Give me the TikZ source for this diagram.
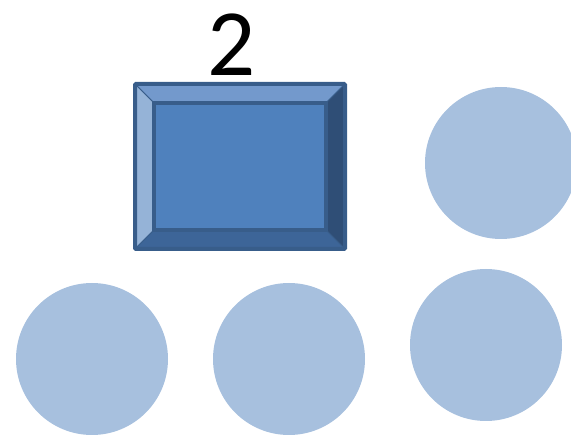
\documentclass[tikz,border=0pt]{standalone}
\usepackage{fontspec}
\setmainfont{Carlito}
\definecolor{dotblue}{HTML}{A7C0DE}
\definecolor{faceblue}{HTML}{4F81BD}
\definecolor{edgeblue}{HTML}{385D8A}
\definecolor{topbevel}{HTML}{7399CC}
\definecolor{leftbevel}{HTML}{95B3D7}
\definecolor{rightbevel}{HTML}{2F4E76}
\definecolor{bottombevel}{HTML}{3D6598}
\begin{document}
\begin{tikzpicture}[
  x=1pt,y=-1pt,
  dot/.style={circle,fill=dotblue,minimum size=152pt,inner sep=0pt},
  bevel/.style={draw=edgeblue,line width=1pt,line join=round}
]
\useasboundingbox (0,0) rectangle (571,435);
\clip (0,0) rectangle (571,435);
% number label
\node[font=\fontsize{95}{95}\selectfont,inner sep=0pt] (num) at (232,45) {2};
% bevelled box
\coordinate (o1) at (135,84);  \coordinate (o2) at (345,84);
\coordinate (o3) at (345,249); \coordinate (o4) at (135,249);
\coordinate (i1) at (154,103); \coordinate (i2) at (326,103);
\coordinate (i3) at (326,230); \coordinate (i4) at (154,230);
\fill[faceblue] (i1) rectangle (i3);
\filldraw[bevel,fill=topbevel] (o1) -- (o2) -- (i2) -- (i1) -- cycle;
\filldraw[bevel,fill=leftbevel] (o1) -- (i1) -- (i4) -- (o4) -- cycle;
\filldraw[bevel,fill=rightbevel] (o2) -- (o3) -- (i3) -- (i2) -- cycle;
\filldraw[bevel,fill=bottombevel] (o4) -- (i4) -- (i3) -- (o3) -- cycle;
\draw[edgeblue,line width=3.5pt] (i1) rectangle (i3);
\draw[edgeblue,line width=4pt,rounded corners=1pt] (o1) rectangle (o3);
% circles
\node[dot] (topright) at (501,163) {};
\node[dot] (botleft) at (92,359) {};
\node[dot] (botmid) at (289,359) {};
\node[dot] (botright) at (486,345) {};
\end{tikzpicture}
\end{document}
